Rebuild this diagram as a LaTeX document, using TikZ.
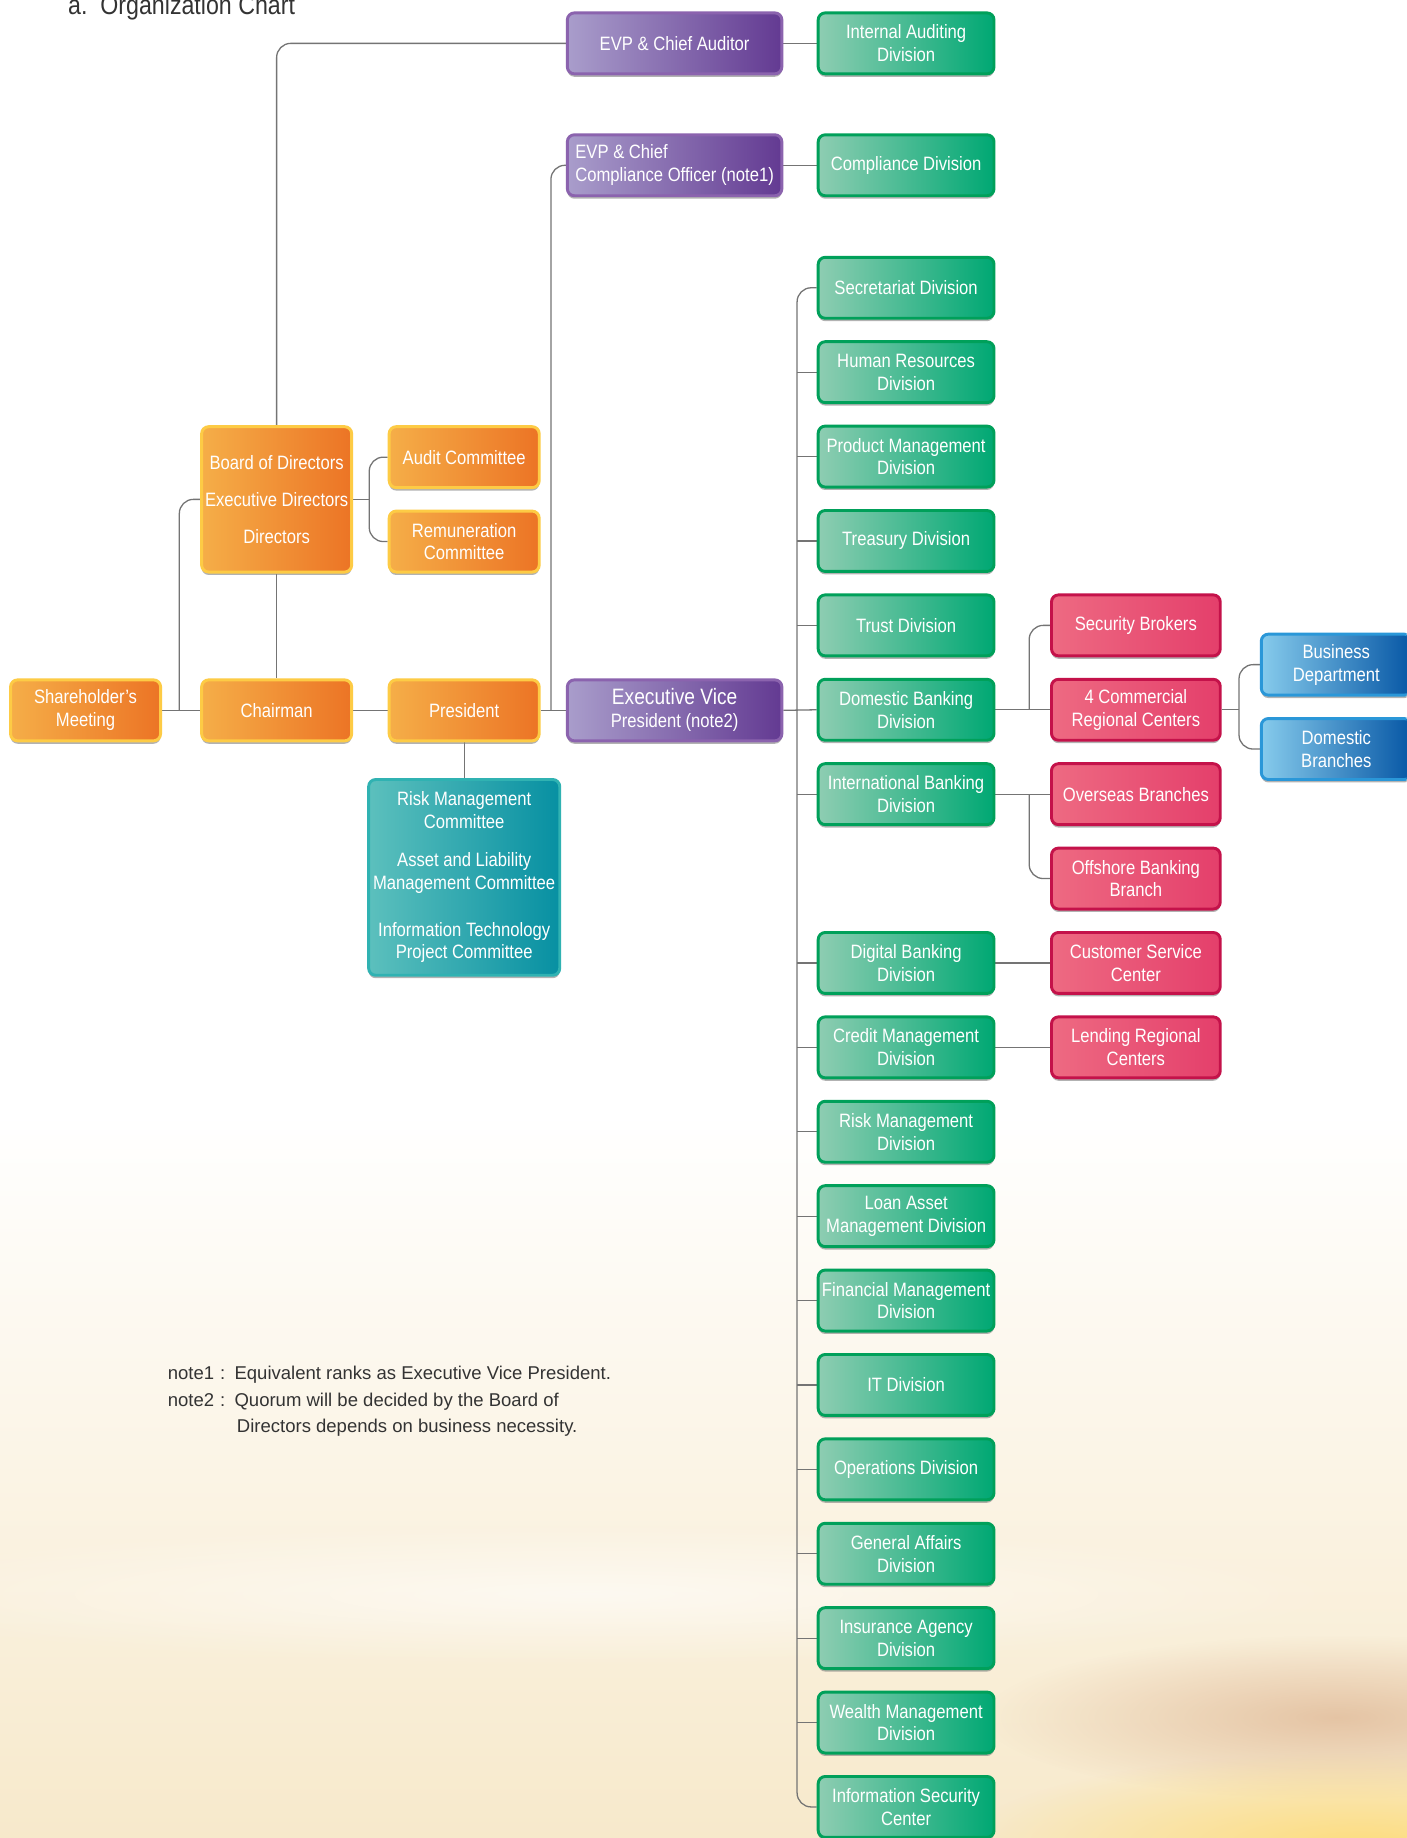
\documentclass[tikz,border=0pt]{standalone}
\usepackage{fontspec}
\setmainfont{Liberation Sans}
\newfontfamily\boxfont{Liberation Sans}[FakeStretch=0.86]
\usetikzlibrary{calc}
\usetikzlibrary{arrows.meta, positioning, shadows, fadings}

\definecolor{grnB}{HTML}{00A05A}
\definecolor{grnL}{HTML}{8ECDB2}
\definecolor{grnR}{HTML}{00A873}
\definecolor{orgB}{HTML}{FDCB45}
\definecolor{orgL}{HTML}{F5AE48}
\definecolor{orgR}{HTML}{EC7425}
\definecolor{purB}{HTML}{8B63AE}
\definecolor{purL}{HTML}{A99DCB}
\definecolor{purR}{HTML}{633A92}
\definecolor{redB}{HTML}{C4124A}
\definecolor{redL}{HTML}{EE6A82}
\definecolor{redR}{HTML}{E43F6B}
\definecolor{bluB}{HTML}{2A97D8}
\definecolor{bluL}{HTML}{86CBEC}
\definecolor{bluR}{HTML}{0757A5}
\definecolor{tealB}{HTML}{30B2B2}
\definecolor{tealL}{HTML}{5CC0BD}
\definecolor{tealR}{HTML}{0790A2}
\definecolor{lineC}{HTML}{747474}
\definecolor{noteC}{HTML}{333333}
\definecolor{bgC}{HTML}{F7E9CB}
\definecolor{bgBrown}{HTML}{D8A985}
\definecolor{bgGold}{HTML}{FFDA6A}

\tikzfading[name=softfade, inner color=transparent!0, outer color=transparent!100]

\pgfdeclarelayer{paper}
\pgfdeclarelayer{wires}
\pgfsetlayers{paper,wires,main}

\begin{document}
\begin{tikzpicture}[x=1pt, y=-1pt,
    box/.style={rectangle, rounded corners=6pt, line width=2.5pt, minimum width=150pt, minimum height=52pt,
        inner sep=1pt, align=center, text=white, font=\boxfont\fontsize{16.5}{19.5}\selectfont,
        drop shadow={opacity=0.6, shadow xshift=0pt, shadow yshift=-2.5pt}},
    grnbox/.style={box, draw=grnB, left color=grnL, right color=grnR},
    orgbox/.style={box, draw=orgB, left color=orgL, right color=orgR, minimum width=128pt},
    purbox/.style={box, draw=purB, left color=purL, right color=purR, minimum width=183pt},
    redbox/.style={box, draw=redB, left color=redL, right color=redR, minimum width=144pt},
    blubox/.style={box, draw=bluB, left color=bluL, right color=bluR, minimum width=128pt},
    tealbox/.style={box, draw=tealB, left color=tealL, middle color=tealR, right color=tealR},
    link/.style={draw=lineC, line width=1.1pt, rounded corners=12pt}]
    \useasboundingbox (0,0) rectangle (1200,1568);
    \clip (0,0) rectangle (1200,1568);
    % 背景
    \begin{pgfonlayer}{paper}
        \fill[white] (0,0) rectangle (1200,1568);
        \shade[top color=white, bottom color=bgC] (0,950) rectangle (1200,1568);
        \fill[white, opacity=0.6, path fading=softfade] (500,1360) ellipse [x radius=650, y radius=60];
        \fill[bgBrown, opacity=0.6, path fading=softfade] (1140,1465) ellipse [x radius=300, y radius=70];
        \fill[bgGold, opacity=0.8, path fading=softfade] (1160,1575) ellipse [x radius=340, y radius=80];
    \end{pgfonlayer}
    % 标题
    \node[anchor=base west, inner sep=0pt, text=noteC, font=\boxfont\fontsize{23}{23}\selectfont] (title) at (58,12) {a.\ \ Organization Chart};
    % 紫色
    \node[purbox] (aud) at (575.5,37) {EVP \& Chief Auditor};
    \node[purbox, align=left] (cco) at (575.5,141) {EVP \& Chief\\Compliance Officer (note1)};
    \node[purbox] (evp) at (575.5,606) {{\fontsize{19}{20}\selectfont Executive Vice}\\President (note2)};
    % 橙色
    \node[orgbox] (share) at (73,606) {Shareholder’s\\Meeting};
    \node[orgbox] (chair) at (236,606) {Chairman};
    \node[orgbox] (pres) at (396,606) {President};
    \node[orgbox, minimum height=124pt] (board) at (236,426) {Board of Directors\\[12pt]Executive Directors\\[12pt]Directors};
    \node[orgbox] (audit) at (396,390) {Audit Committee};
    \node[orgbox] (rem) at (396,462) {Remuneration\\Committee};
    % 委员会
    \node[tealbox, minimum width=163pt, minimum height=167pt] (ctee) at (396,748.5) {Risk Management\\Committee\\[13pt]Asset and Liability\\Management Committee\\[20pt]Information Technology\\Project Committee};
    % 绿色
    \node[grnbox] (iad) at (773,37) {Internal Auditing\\Division};
    \node[grnbox] (comp) at (773,141) {Compliance Division};
    \foreach \k/\t in {0/Secretariat Division, 1/{Human Resources\\Division}, 2/{Product Management\\Division},
        3/Treasury Division, 4/Trust Division, 5/{Domestic Banking\\Division}, 6/{International Banking\\Division},
        8/{Digital Banking\\Division}, 9/{Credit Management\\Division}, 10/{Risk Management\\Division},
        11/{Loan Asset\\Management Division}, 12/{Financial Management\\Division}, 13/IT Division,
        14/Operations Division, 15/{General Affairs\\Division}, 16/{Insurance Agency\\Division},
        17/{Wealth Management\\Division}, 18/{Information Security\\Center}} {
        \node[grnbox] (g\k) at (773,245.5+72*\k) {\t};
    }
    % 红色
    \node[redbox] (r1) at (969,533.5) {Security Brokers};
    \node[redbox] (r2) at (969,605.5) {4 Commercial\\Regional Centers};
    \node[redbox] (r3) at (969,677.5) {Overseas Branches};
    \node[redbox] (r4) at (969,749.5) {Offshore Banking\\Branch};
    \node[redbox] (r5) at (969,821.5) {Customer Service\\Center};
    \node[redbox] (r6) at (969,893.5) {Lending Regional\\Centers};
    % 蓝色
    \node[blubox] (b1) at (1140,567) {Business\\Department};
    \node[blubox] (b2) at (1140,639) {Domestic\\Branches};
    % 连线
    \coordinate (j1) at (470,606);
    \coordinate (j2) at (153,606);
    \coordinate (j3) at (315,426);
    \coordinate (tk) at (680,900);
    \coordinate (j4) at (878,605.5);
    \coordinate (j5) at (878,677.5);
    \coordinate (j6) at (1057,605.5);
    \begin{pgfonlayer}{wires}
        \draw[link] (aud.west) -| (board.north);
        \draw[link] (aud.east) -- (iad.west);
        \draw[link] (cco.west) -| (j1);
        \draw[link] (cco.east) -- (comp.west);
        \draw[link] (share.east) -- (chair.west);
        \draw[link] (board.west) -| (j2);
        \draw[link] (board.south) -- (chair.north);
        \draw[link] (board.east) -- (j3);
        \draw[link] (audit.west) -| (j3) |- (rem.west);
        \draw[link] (chair.east) -- (pres.west);
        \draw[link] (pres.east) -- (evp.west);
        \draw[link] (pres.south) -- (ctee.north);
        \draw[link] (evp.east) -- (g5.west);
        \draw[link] (g0.west) -| (tk) |- (g18.west);
        \foreach \k in {1,2,3,4,6,8,9,10,11,12,13,14,15,16,17} {
            \draw[link] (g\k.west) -- (g\k.west -| tk);
        }
        \draw[link] (g5.east) -- (r2.west);
        \draw[link] (r1.west) -| (j4);
        \draw[link] (g6.east) -- (r3.west);
        \draw[link] (r4.west) -| (j5);
        \draw[link] (g8.east) -- (r5.west);
        \draw[link] (g9.east) -- (r6.west);
        \draw[link] (r2.east) -- (j6);
        \draw[link] (b1.west) -| (j6) |- (b2.west);
    \end{pgfonlayer}
    % 注释
    \node[anchor=base west, inner sep=0pt, text=noteC, font=\fontsize{15.8}{22.5}\selectfont] (notes) at (143,1177)
        {\begin{tabular}[t]{@{}l@{\hspace{8pt}}l@{}}note1\hspace{5pt}:&Equivalent ranks as Executive Vice President.\\
        note2\hspace{5pt}:&Quorum will be decided by the Board of\\
        &\hspace{2pt}Directors depends on business necessity.\end{tabular}};
\end{tikzpicture}
\end{document}
